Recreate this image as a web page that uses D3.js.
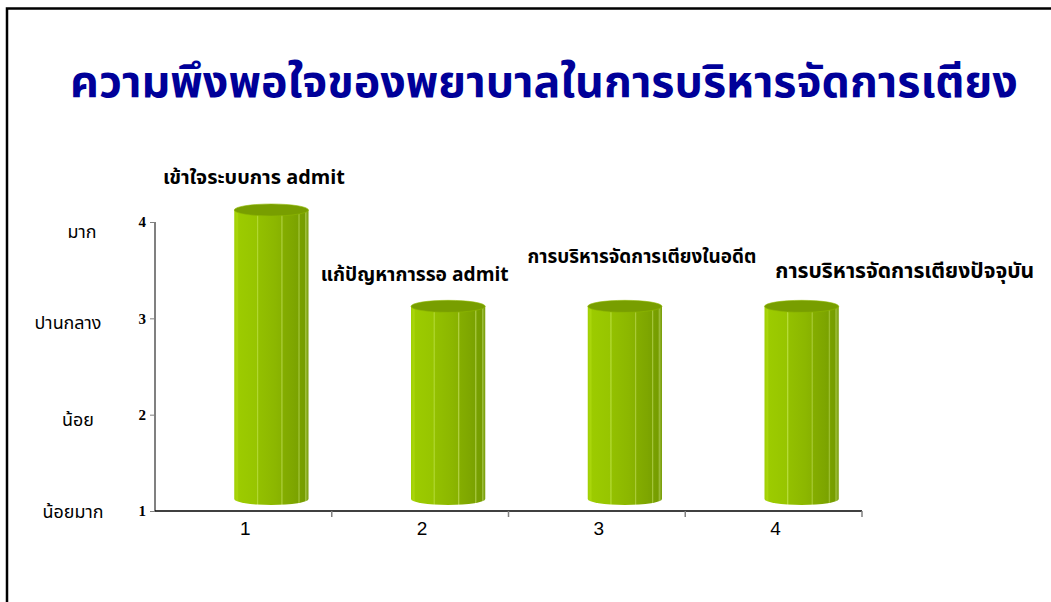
<!DOCTYPE html>
<html>
<head>
<meta charset="utf-8">
<script src="https://cdn.jsdelivr.net/npm/d3@7/dist/d3.min.js"></script>
<style>
  html, body { margin: 0; padding: 0; background: #fff; }
  svg { display: block; }
</style>
</head>
<body>
<svg id="chart" width="1051" height="602"></svg>
<script>
// Satisfaction scores per item (1 = very low ... 4 = high)
const categories = [1, 2, 3, 4];
const values = [4, 3, 3, 3];
const itemLabels = [
  "เข้าใจระบบการ admit",
  "แก้ปัญหาการรอ admit",
  "การบริหารจัดการเตียงในอดีต",
  "การบริหารจัดการเตียงปัจจุบัน"
];
const levelTicks = [1, 2, 3, 4];
const levelNames = ["น้อยมาก", "น้อย", "ปานกลาง", "มาก"];
const titleText = "ความพึงพอใจของพยาบาลในการบริหารจัดการเตียง";

const svg = d3.select("#chart");
const thaiFont = "Tahoma, 'Noto Sans Thai', 'Noto Sans', 'DejaVu Sans', sans-serif";

// scale a text element's font so it spans the given width
function fitWidth(node, target) {
  const sel = d3.select(node);
  const w = node.getComputedTextLength();
  const fs = +sel.attr("font-size");
  if (w > 0) sel.attr("font-size", fs * target / w);
  return +sel.attr("font-size");
}

// frame lines (top and left)
svg.append("path")
  .attr("d", "M7,602 V8.5 H1051")
  .attr("fill", "none").attr("stroke", "#000").attr("stroke-width", 2.5);

// title
const title = svg.append("text")
  .attr("x", 544).attr("y", 97)
  .attr("text-anchor", "middle")
  .attr("font-family", thaiFont)
  .attr("font-weight", "bold")
  .attr("font-size", 34)
  .attr("fill", "#000099")
  .text(titleText);
fitWidth(title.node(), 948);

// scales
const plot = { left: 155, right: 862, top: 222, bottom: 511 };
const x = d3.scaleBand().domain(categories).range([plot.left, plot.right]).padding(0);
const y = d3.scaleLinear().domain([1, 4]).range([plot.bottom, plot.top]);

// 3D depth shift of the columns
const depth = { dx: 28, dy: -12 };
const barW = x.bandwidth() * 0.42;
const ry = 6;

// cylinder shading
const defs = svg.append("defs");
const grad = defs.append("linearGradient").attr("id", "cyl")
  .attr("x1", 0).attr("x2", 1).attr("y1", 0).attr("y2", 0);
const bands = [
  [0.00, "#9fcf00"], [0.04, "#aad60c"], [0.06, "#9ccb00"], [0.30, "#97c500"],
  [0.31, "#b6dc3a"], [0.33, "#93c000"], [0.55, "#8cb700"], [0.63, "#88b200"],
  [0.64, "#b0d040"], [0.66, "#84ad00"], [0.80, "#7ea600"], [0.86, "#7aa200"],
  [0.87, "#a8c840"], [0.89, "#78a000"], [0.95, "#769d00"], [0.96, "#a0c040"],
  [1.00, "#739900"]
];
bands.forEach(([o, c]) => grad.append("stop").attr("offset", o).attr("stop-color", c));

// y axis
const yAxis = svg.append("g")
  .attr("transform", `translate(${plot.left},0)`)
  .call(d3.axisLeft(y).tickValues(levelTicks).tickFormat(d3.format("d")).tickSize(5).tickPadding(4));
yAxis.select(".domain").attr("stroke", "#808080").attr("stroke-width", 2)
  .attr("d", `M0,${plot.top}V${plot.bottom}`);
yAxis.selectAll(".tick line").attr("stroke", "#808080");
yAxis.selectAll(".tick text")
  .attr("font-family", "'Liberation Serif', 'Times New Roman', serif")
  .attr("font-weight", "bold").attr("font-size", 15).attr("fill", "#000");

// x axis
const xAxis = svg.append("g")
  .attr("transform", `translate(0,${plot.bottom})`)
  .call(d3.axisBottom(x).tickSize(0).tickPadding(11));
xAxis.select(".domain").attr("stroke", "#000").attr("stroke-width", 1.5)
  .attr("d", `M${plot.left},0H${plot.right}`);
xAxis.selectAll(".tick text")
  .attr("font-family", "'Liberation Sans', Arial, sans-serif")
  .attr("font-size", 19).attr("fill", "#000")
  .attr("dx", 2);
xAxis.selectAll(".sep")
  .data(categories)
  .join("line")
  .attr("class", "sep")
  .attr("x1", d => x(d) + x.bandwidth())
  .attr("x2", d => x(d) + x.bandwidth())
  .attr("y1", 0).attr("y2", 6)
  .attr("stroke", "#808080").attr("stroke-width", 1.5);

// level names left of the axis, one shared font size
const levelX = [73, 78, 68, 82];
const levelDy = [2, 6, 6, 11];
const levels = svg.append("g").selectAll("text")
  .data(levelTicks)
  .join("text")
  .attr("x", (d, i) => levelX[i])
  .attr("y", (d, i) => y(d) + levelDy[i])
  .attr("text-anchor", "middle")
  .attr("dominant-baseline", "middle")
  .attr("font-family", thaiFont)
  .attr("font-size", 15)
  .attr("fill", "#000")
  .text((d, i) => levelNames[i]);
const levelSize = fitWidth(levels.nodes()[2], 67);
levels.attr("font-size", levelSize);

// cylinders
const bars = svg.append("g").selectAll("g")
  .data(categories.map((c, i) => ({ c, v: values[i] })))
  .join("g")
  .attr("transform", d => `translate(${x(d.c) + x.bandwidth() / 2 + depth.dx},${depth.dy})`);

bars.append("path")
  .attr("fill", "url(#cyl)")
  .attr("d", d => {
    const yt = y(d.v), yb = y(1), r = barW / 2;
    return `M${-r},${yt} V${yb} A${r},${ry} 0 0 0 ${r},${yb} V${yt} Z`;
  });
bars.append("ellipse")
  .attr("cx", 0).attr("cy", d => y(d.v))
  .attr("rx", barW / 2).attr("ry", ry)
  .attr("fill", "#789e00")
  .attr("stroke", "#8fb800").attr("stroke-width", 0.6);

// item labels placed above the columns
const labelPos = [
  { dx: 8, dy: -38 },
  { dx: -11, dy: -37 },
  { dx: 19, dy: -55 },
  { dx: 90, dy: -40 }
];
const labelWidths = [182, 188, 229, 259];
svg.append("g").selectAll("text")
  .data(categories.map((c, i) => ({ c, v: values[i], i })))
  .join("text")
  .attr("x", d => x(d.c) + labelPos[d.i].dx)
  .attr("y", d => y(d.v) + labelPos[d.i].dy)
  .attr("font-family", thaiFont)
  .attr("font-weight", "bold")
  .attr("font-size", 14)
  .attr("fill", "#000")
  .text(d => itemLabels[d.i])
  .each(function (d) { fitWidth(this, labelWidths[d.i]); });
</script>
</body>
</html>
